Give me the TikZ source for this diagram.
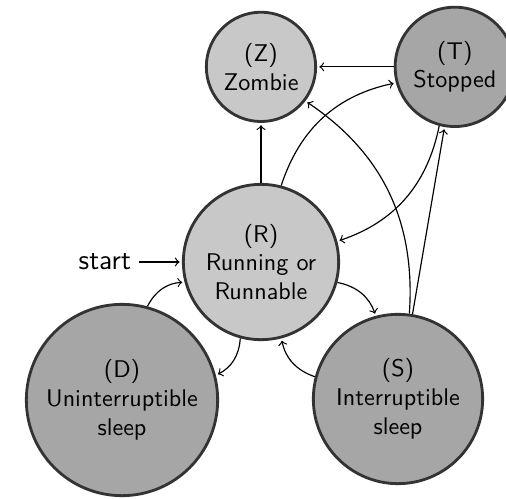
\documentclass[tikz,border=0pt]{standalone}
\usepackage{tikz}
\usetikzlibrary{positioning}
\definecolor{statelight}{RGB}{200,200,200}
\definecolor{statedark}{RGB}{166,166,166}
\definecolor{stateborder}{RGB}{51,51,51}

\begin{document}
\begin{tikzpicture}[node distance=1cm,font=\sffamily\fontsize{10.3}{12.3}\selectfont,>=to]
        \tikzset{runstate/.style={align=center,shape=circle,draw=stateborder,line width=1.2pt,fill=statelight,inner sep=0pt}}
        \tikzset{waitstate/.style={runstate,fill=statedark}}
        \tikzset{trans/.style={->,shorten >=1pt,line width=0.5pt}}

        \useasboundingbox (-3.915,-3.54) rectangle (3.675,3.93);

        \node [runstate,minimum size=2.33cm] (running) at (0,0) {(R)\\Running or\\Runnable};
        \node [runstate,minimum size=1.64cm,above=0.9cm of running] (zombie) {(Z)\\Zombie};
        \node [waitstate,minimum size=1.79cm,right=1.15cm of zombie] (stopped) {(T)\\Stopped};
        \node [waitstate,minimum size=2.87cm] (uninterruptible) at (-2.085,-2.07) {(D)\\Uninterruptible\\sleep};
        \node [waitstate,minimum size=2.54cm] (interruptible) at (2.055,-2.055) {(S)\\Interruptible\\sleep};
        \node [font=\sffamily\large,left=0.64cm of running] (start) {start};

        % transitions
        \draw [trans] (start) -- (running);
        \draw [trans] (running) -- (zombie);
        \draw [trans] (stopped) -- (zombie);
        \draw [trans] (running) to [bend left] (stopped);
        \draw [trans] (stopped) to [bend left] (running);
        \draw [trans] (interruptible) -- (stopped);
        \draw [trans] (interruptible) to [bend right] (zombie);
        \draw [trans] (running) to [bend left] (interruptible);
        \draw [trans] (interruptible) to [bend left] (running);
        \draw [trans] (running) to [bend left] (uninterruptible);
        \draw [trans] (uninterruptible) to [bend left] (running);
    \end{tikzpicture}
\end{document}
